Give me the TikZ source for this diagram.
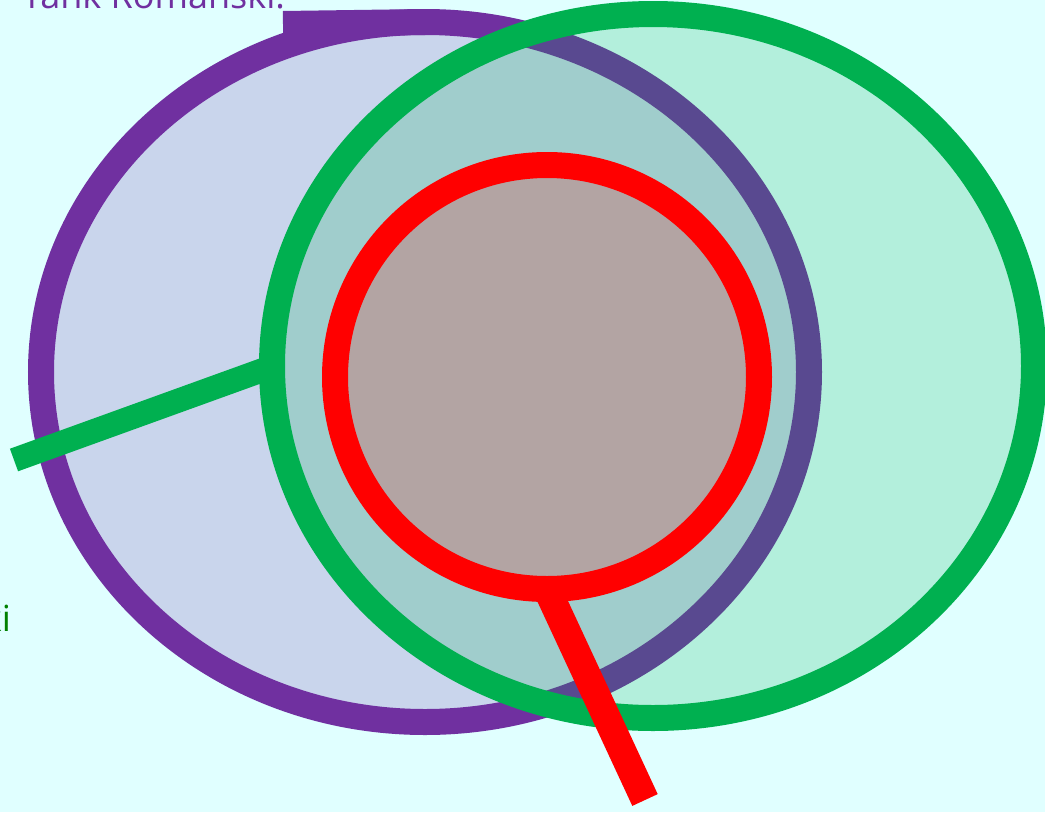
\documentclass[tikz,border=0pt]{standalone}
\usepackage{fontspec}
\setmainfont{Open Sans}
\usetikzlibrary{shapes.geometric}
\definecolor{bgc}{HTML}{E0FFFF}
\definecolor{purp}{HTML}{7030A0}
\definecolor{lav}{HTML}{C9D5EC}
\definecolor{grn}{HTML}{00B050}
\definecolor{txtgrn}{HTML}{008000}
\definecolor{rd}{HTML}{FF0000}
\tikzset{
  ring/.style={ellipse, inner sep=0pt, outer sep=0pt, line width=26pt},
  callout/.style={line width=#1, line cap=butt},
  lbl/.style={inner sep=0pt, outer sep=0pt, font=\fontsize{36}{40}\selectfont}
}
\begin{document}
\begin{tikzpicture}[x=1pt,y=-1pt]
\useasboundingbox (0,0) rectangle (1045,812);
\fill[bgc] (0,0) rectangle (1045,812);
% purple set
\node[ring, draw=purp, fill=lav, minimum width=768pt, minimum height=700pt] (pset) at (425,372) {};
% green set
\node[ring, draw=grn, fill=grn, fill opacity=0.2, draw opacity=1, minimum width=762pt, minimum height=704pt] (gset) at (653,366) {};
% red set
\node[ring, circle, draw=rd, fill=rd, fill opacity=0.2, draw opacity=1, minimum size=424pt] (rset) at (547,377) {};
% labels
\node[lbl, text=purp, anchor=base east] (plabel) at (285,8) {Yank Romanski.};
\node[lbl, text=txtgrn, anchor=base east] (glabel) at (11,631) {ki};
% callout lines
\coordinate (pend) at (283,24);
\coordinate (gend) at (14,460);
\coordinate (rend) at (645,800);
\draw[callout=26pt, purp] (pset.north) -- (pend);
\draw[callout=24pt, grn] ([xshift=2pt]gset.west) -- (gend);
\draw[callout=28pt, rd] (rset.south) -- (rend);
\end{tikzpicture}
\end{document}
